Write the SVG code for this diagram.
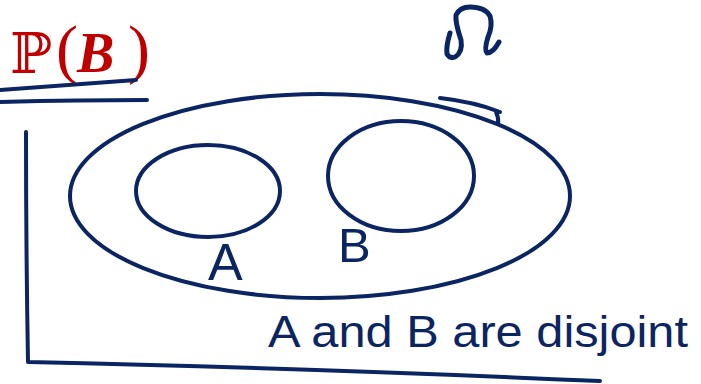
<svg xmlns="http://www.w3.org/2000/svg" width="701" height="384" viewBox="0 0 701 384">
<style>
.s{fill:none;stroke:#0b2563;stroke-width:4;stroke-linecap:round;stroke-linejoin:round}
.h{fill:#0b2563;font-family:"Liberation Sans",sans-serif}
.r{fill:#c00000}
</style>
<rect width="701" height="384" fill="#fff"/>
<g id="title">
<text x="10" y="73" class="r" font-family="DejaVu Serif,serif" font-size="56">ℙ</text>
<text x="56" y="71" class="r" font-family="Liberation Serif,serif" font-size="66">(</text>
<text x="77" y="72" class="r" font-family="Liberation Serif,serif" font-size="56" font-weight="bold" font-style="italic">B</text>
<text x="128" y="71" class="r" font-family="Liberation Serif,serif" font-size="66">)</text>
</g>
<g id="connectors">
<path class="s" d="M0 90 L136 80"/>
<path class="s" d="M0 102 Q80 100 147 100"/>
<path class="s" d="M26 132 Q26 250 28 362 Q300 368 600 381"/>
<path class="s" d="M440 98 Q475 102 500 112 M496 112 Q499 118 498 124"/>
</g>
<g id="omega">
<path class="s" style="stroke-width:5" d="M450 33 Q446 46 447 54 Q450 59 455 57 Q463 52 461 40 Q455 22 456 15 Q460 7 470 7 Q485 7 490 16 Q493 26 488 37 Q484 50 487 53 Q493 53 499 42"/>
</g>
<g id="Omega-set">
<ellipse class="s" cx="320" cy="196" rx="250" ry="102"/>
</g>
<g id="A">
<ellipse class="s" cx="208" cy="191" rx="72" ry="46"/>
<text x="208" y="280" class="h" font-size="52">A</text>
</g>
<g id="B">
<ellipse class="s" cx="401" cy="176" rx="73" ry="55"/>
<text x="338" y="262" class="h" font-size="49">B</text>
</g>
<g id="note">
<text x="268" y="347" class="h" font-size="44" textLength="420" lengthAdjust="spacingAndGlyphs">A and B are disjoint</text>
</g>
</svg>
